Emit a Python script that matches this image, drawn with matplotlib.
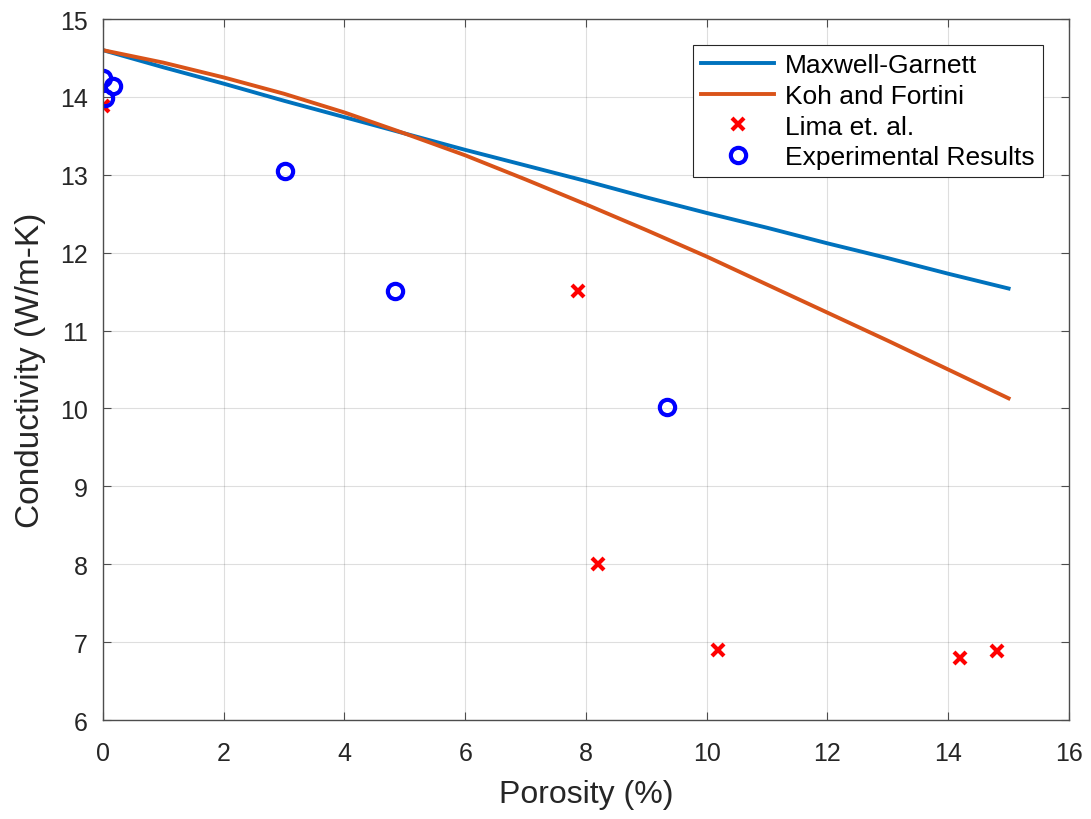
import matplotlib
matplotlib.use("Agg")
import matplotlib.pyplot as plt

# Model curves (porosity in %, conductivity in W/m-K)
porosity_model = [0, 1, 2, 3, 4, 5, 6, 7, 8, 9, 10, 11, 12, 13, 14, 15]
maxwell_garnett = [14.60, 14.38, 14.17, 13.95, 13.74, 13.53, 13.32, 13.12,
                   12.92, 12.71, 12.51, 12.32, 12.12, 11.93, 11.73, 11.54]
koh_fortini = [14.60, 14.44, 14.25, 14.04, 13.80, 13.53, 13.25, 12.94,
               12.62, 12.29, 11.95, 11.59, 11.23, 10.87, 10.50, 10.13]

# Lima et. al.
lima_x = [0.0, 7.86, 8.2, 10.18, 14.19, 14.8]
lima_y = [13.88, 11.51, 8.0, 6.9, 6.80, 6.89]

# Experimental results
exp_x = [0.0, 0.17, 0.03, 3.01, 4.83, 9.34]
exp_y = [14.24, 14.14, 13.98, 13.05, 11.51, 10.02]

plt.rcParams['font.family'] = ['Liberation Sans', 'DejaVu Sans']

fig = plt.figure(figsize=(10.91, 8.20), dpi=100)
ax = fig.add_axes([0.0944, 0.1207, 0.8854, 0.8549])

ax.plot(porosity_model, maxwell_garnett, color='#0072BD', linewidth=2.8,
        label='Maxwell-Garnett')
ax.plot(porosity_model, koh_fortini, color='#D95319', linewidth=2.8,
        label='Koh and Fortini')
ax.plot(lima_x, lima_y, 'x', color='#FF0000', markersize=8, markeredgewidth=3,
        linestyle='none', label='Lima et. al.')
ax.plot(exp_x, exp_y, 'o', color='#0000FF', markerfacecolor='none',
        markersize=11, markeredgewidth=3, linestyle='none',
        label='Experimental Results')

ax.set_xlim(0, 16)
ax.set_ylim(6, 15)
ax.set_xticks(range(0, 17, 2))
ax.set_yticks(range(6, 16))
ax.grid(True, color='#262626', alpha=0.15, linewidth=0.8)
ax.tick_params(direction='in', length=6, width=0.8, colors='#4d4d4d',
               labelcolor='#262626', labelsize=18, top=True, right=True)
ax.tick_params(axis='x', pad=15)
ax.tick_params(axis='y', pad=11)
for s in ax.spines.values():
    s.set_color('#4d4d4d')
    s.set_linewidth(1.0)

ax.set_xlabel('Porosity (%)', fontsize=23, color='#262626', labelpad=10)
ax.set_ylabel('Conductivity (W/m-K)', fontsize=24, color='#262626', labelpad=10)

leg = ax.legend(loc='upper right', fontsize=19, fancybox=False,
                edgecolor='#262626', framealpha=1, borderaxespad=1.0,
                handlelength=2.8, handletextpad=0.4, labelspacing=0.25,
                borderpad=0.3)
leg.get_frame().set_linewidth(0.8)

fig.savefig('out.png', dpi=100)
